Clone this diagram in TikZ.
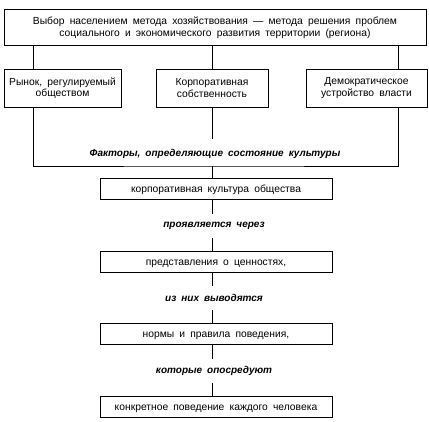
\documentclass[tikz,border=0pt]{standalone}
\usepackage{fontspec}
\setmainfont{Liberation Sans}
\usetikzlibrary{positioning,calc}

\newcommand{\widesp}{\spaceskip=0.5em plus 0.1em\relax}

\tikzset{
    box/.style={draw, line width=0.8pt, align=center, font=\fontsize{10.3}{11.5}\selectfont\widesp, inner sep=2pt},
    chainbox/.style={box, minimum width=232pt, minimum height=21pt, text height=9pt, text depth=0.5pt},
    gloss/.style={font=\fontsize{10}{12}\selectfont\bfseries\itshape\widesp, inner xsep=2pt, inner ysep=0pt, minimum height=24pt},
    link/.style={line width=0.8pt}
}

\begin{document}
\begin{tikzpicture}[x=1pt, y=-1pt]
    \useasboundingbox (0,0) rectangle (429,422);
    % top box
    \node[box, minimum width=422pt, minimum height=36.5pt] (choice) at (215,27.5) {Выбор населением метода хозяйствования --- метода решения проблем\\социального и экономического развития территории (региона)};
    % three factor boxes
    \node[box, minimum width=117pt, minimum height=38pt] (market) at (62.5,88) {Рынок, регулируемый\\обществом};
    \node[box, minimum width=112pt, minimum height=38pt] (property) at (212,88) {Корпоративная\\собственность};
    \node[box, minimum width=121pt, minimum height=38pt] (power) at (366.5,88) {Демократическое\\устройство власти};
    \coordinate (lx) at (33,0);
    \coordinate (rx) at (398,0);
    \coordinate (bus) at (212,166);
    \node[gloss] (factors) at (215,154) {Факторы, определяющие состояние культуры};
    % chain
    \node[chainbox] (culture) at (216,188.5) {корпоративная культура общества};
    \node[gloss] (g1) at (214,226) {проявляется через};
    \node[chainbox] (values) at (216,261.5) {представления о ценностях,};
    \node[gloss] (g2) at (214,298) {из них выводятся};
    \node[chainbox] (norms) at (216,333.5) {нормы и правила поведения,};
    \node[gloss] (g3) at (214,371) {которые опосредуют};
    \node[chainbox] (act) at (216,406.5) {конкретное поведение каждого человека};
    % connectors
    \draw[link] (choice.south -| lx) -- (market.north -| lx);
    \draw[link] (choice.south -| property) -- (property.north);
    \draw[link] (choice.south -| rx) -- (power.north -| rx);
    \draw[link] (market.south -| lx) |- (bus) -| (power.south -| rx);
    \draw[link] (property.south) -- ([yshift=3pt]factors.north -| property);
    \draw[link] (bus) -- (culture.north -| bus);
    \draw[link] (culture.south -| property) -- (g1.north -| property);
    \draw[link] (g1.south -| property) -- (values.north -| property);
    \draw[link] (values.south -| property) -- (g2.north -| property);
    \draw[link] (g2.south -| property) -- (norms.north -| property);
    \draw[link] (norms.south -| property) -- (g3.north -| property);
    \draw[link] (g3.south -| property) -- (act.north -| property);
\end{tikzpicture}
\end{document}
